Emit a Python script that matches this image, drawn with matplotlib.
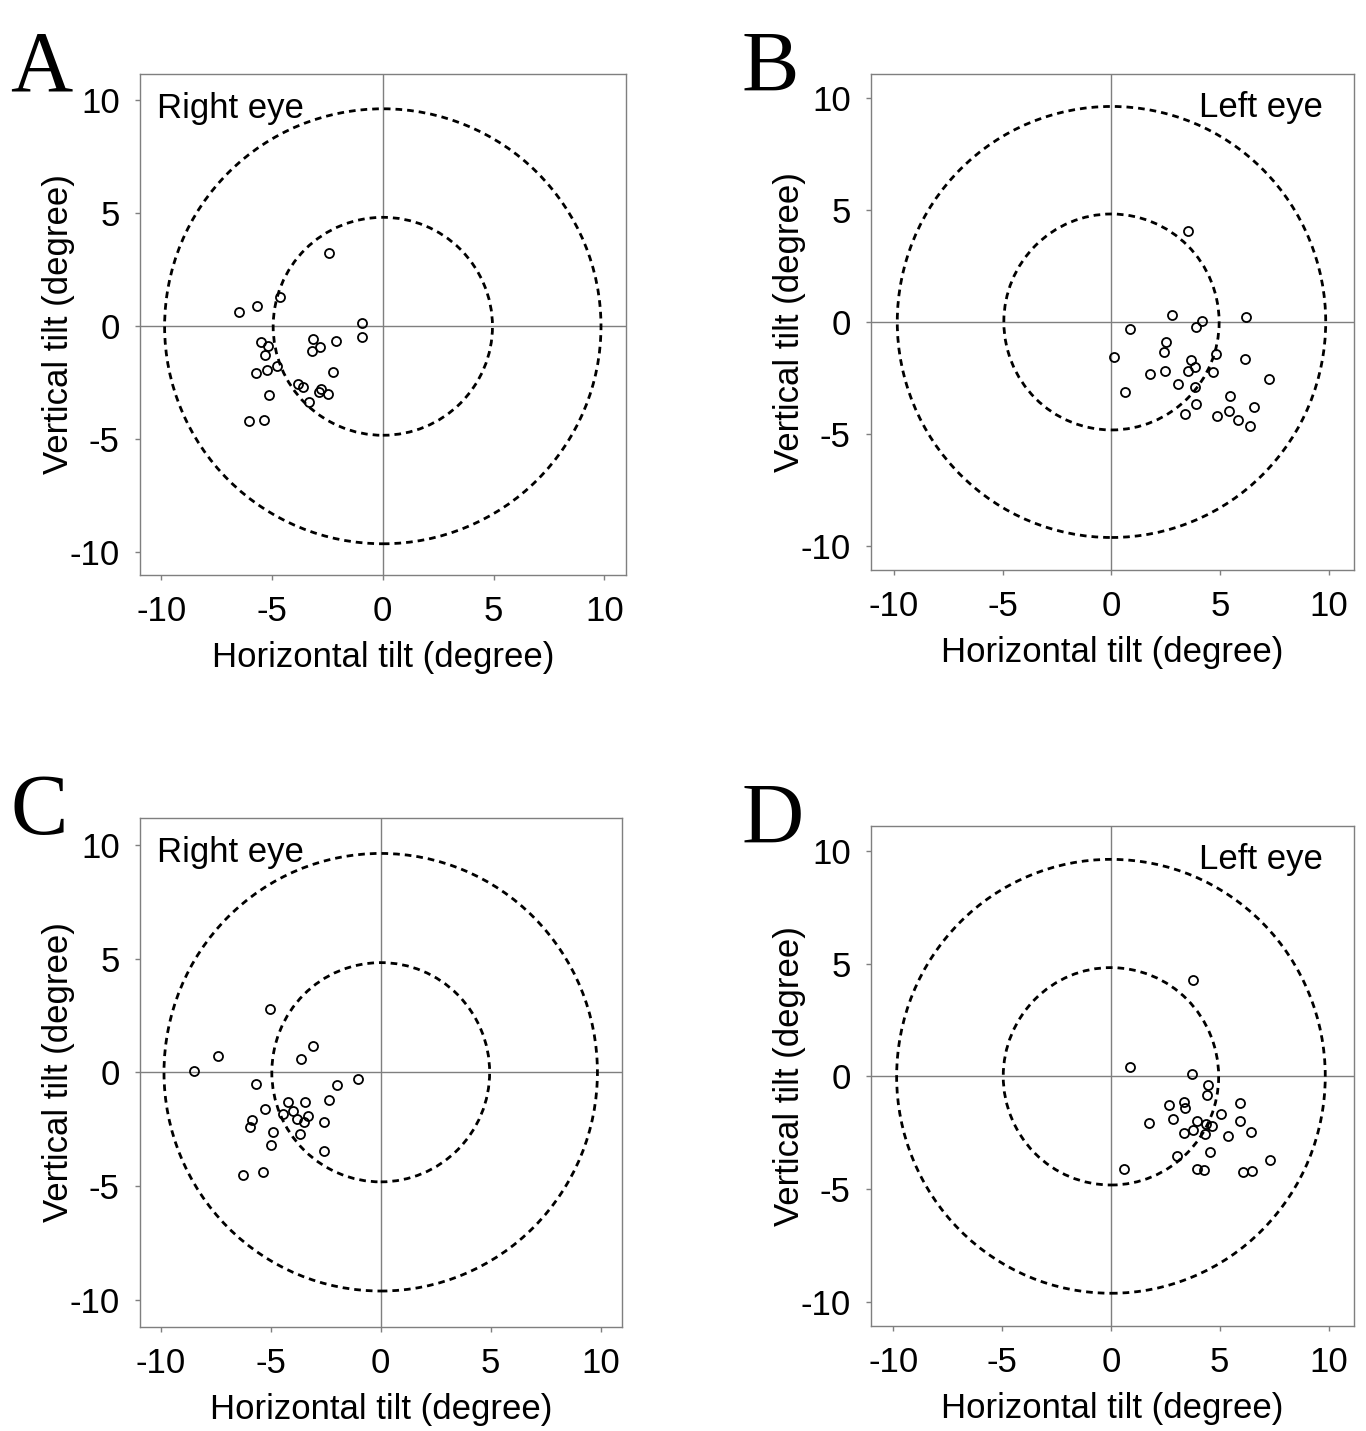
import matplotlib
matplotlib.use("Agg")
import matplotlib.pyplot as plt
from matplotlib.patches import Ellipse

plt.rcParams['font.family'] = ['Liberation Sans', 'DejaVu Sans']

# panel A - right eye
a_x = [-2.45, -4.64, -5.69, -6.50, -0.93, -0.92, -5.51, -5.18, -3.15, -2.84, -3.18, -2.11, -5.31,
       -4.77, -5.22, -5.72, -2.24, -3.81, -3.58, -2.78, -2.90, -2.48, -5.13, -3.34, -6.05, -5.36]
a_y = [3.26, 1.31, 0.91, 0.65, 0.15, -0.46, -0.68, -0.88, -0.56, -0.91, -1.11, -0.63, -1.28,
       -1.76, -1.92, -2.05, -2.01, -2.54, -2.68, -2.77, -2.91, -3.01, -3.05, -3.36, -4.20, -4.14]

# panel B - left eye
b_x = [3.54, 2.77, 4.17, 3.88, 6.19, 0.84, 0.12, 2.51, 2.42, 4.80, 6.13, 3.66, 3.83, 3.54, 2.47,
       1.76, 4.66, 7.23, 3.08, 3.82, 0.60, 5.43, 3.89, 6.57, 5.39, 3.39, 4.83, 5.84, 6.38]
b_y = [4.06, 0.33, 0.06, -0.24, 0.22, -0.33, -1.58, -0.89, -1.34, -1.41, -1.64, -1.68, -1.99, -2.20, -2.19,
       -2.31, -2.23, -2.56, -2.77, -2.92, -3.13, -3.32, -3.68, -3.79, -3.99, -4.09, -4.20, -4.39, -4.66]

# panel C - right eye
c_x = [-5.05, -3.06, -7.38, -3.64, -8.50, -1.05, -5.65, -1.98, -2.33, -4.21, -3.44, -5.24, -4.00,
       -4.45, -3.30, -3.79, -3.50, -2.59, -5.86, -5.92, -4.91, -3.67, -4.98, -2.56, -5.35, -6.24]
c_y = [2.76, 1.16, 0.72, 0.59, 0.06, -0.28, -0.50, -0.54, -1.22, -1.32, -1.30, -1.63, -1.70,
       -1.85, -1.94, -2.07, -2.18, -2.18, -2.11, -2.42, -2.62, -2.73, -3.18, -3.48, -4.40, -4.53]

# panel D - left eye
d_x = [3.75, 0.89, 3.72, 4.46, 4.40, 2.68, 3.36, 3.39, 5.95, 5.06, 2.84, 1.73, 3.97, 4.38, 4.64,
       5.95, 3.75, 3.36, 4.31, 6.45, 5.39, 4.54, 3.03, 7.31, 0.58, 3.94, 4.26, 6.07, 6.47]
d_y = [4.29, 0.41, 0.12, -0.37, -0.84, -1.26, -1.14, -1.39, -1.17, -1.67, -1.89, -2.05, -2.00, -2.13, -2.19,
       -1.97, -2.39, -2.51, -2.54, -2.45, -2.66, -3.36, -3.53, -3.71, -4.11, -4.11, -4.15, -4.26, -4.20]

ticks = [-10, -5, 0, 5, 10]
gray = '#7f7f7f'
fs = 25

fig = plt.figure(figsize=(13.66, 14.31), dpi=100)

panels = [
    # letter, x, y, eye label, axes rect, xlim, ylim
    ('A', a_x, a_y, 'Right eye', [0.1025, 0.5982, 0.3558, 0.3501], (-10.96, 10.98), (-11.0, 11.16)),
    ('B', b_x, b_y, 'Left eye', [0.6376, 0.6017, 0.3536, 0.3466], (-11.06, 11.15), (-11.07, 11.07)),
    ('C', c_x, c_y, 'Right eye', [0.1025, 0.0727, 0.3529, 0.3557], (-10.94, 10.97), (-11.2, 11.18)),
    ('D', d_x, d_y, 'Left eye', [0.6376, 0.0734, 0.3536, 0.3494], (-11.03, 11.17), (-11.07, 11.1)),
]

for letter, xs, ys, eye, rect, xl, yl in panels:
    ax = fig.add_axes(rect)
    ax.set_xlim(xl)
    ax.set_ylim(yl)
    ax.axhline(0, color=gray, lw=1.0, zorder=1)
    ax.axvline(0, color=gray, lw=1.0, zorder=1)
    for rx, ry in [(9.85, 9.62), (4.95, 4.82)]:
        ax.add_patch(Ellipse((0, 0), 2 * rx, 2 * ry, fill=False, color='black',
                             lw=2.0, linestyle=(0, (2.4, 1.8)), zorder=2))
    ax.plot(xs, ys, 'o', mfc='none', mec='black', ms=6.5, mew=1.3, zorder=3)

    ax.set_xticks(ticks)
    ax.set_yticks(ticks)
    ax.set_xticklabels([str(t) for t in ticks])
    ax.set_yticklabels([str(t) for t in ticks])
    ax.tick_params(direction='out', length=3.6, width=1.0, color=gray,
                   labelsize=fs)
    ax.tick_params(axis='x', pad=11)
    ax.tick_params(axis='y', pad=11)
    for s in ax.spines.values():
        s.set_color(gray)
        s.set_linewidth(1.0)
    ax.set_xlabel('Horizontal tilt (degree)', fontsize=fs, labelpad=9)
    ax.set_ylabel('Vertical tilt (degree)', fontsize=fs, labelpad=-4)

    if eye == 'Right eye':
        ax.text(0.035, 0.965, eye, transform=ax.transAxes, fontsize=fs,
                ha='left', va='top')
    else:
        ax.text(0.935, 0.965, eye, transform=ax.transAxes, fontsize=fs,
                ha='right', va='top')

    fig.text(rect[0] - 0.095, rect[1] + rect[3] + 0.003, letter, fontsize=62,
             family=['Liberation Serif', 'DejaVu Serif'], ha='left', va='center')

fig.savefig('out.png', dpi=100)
